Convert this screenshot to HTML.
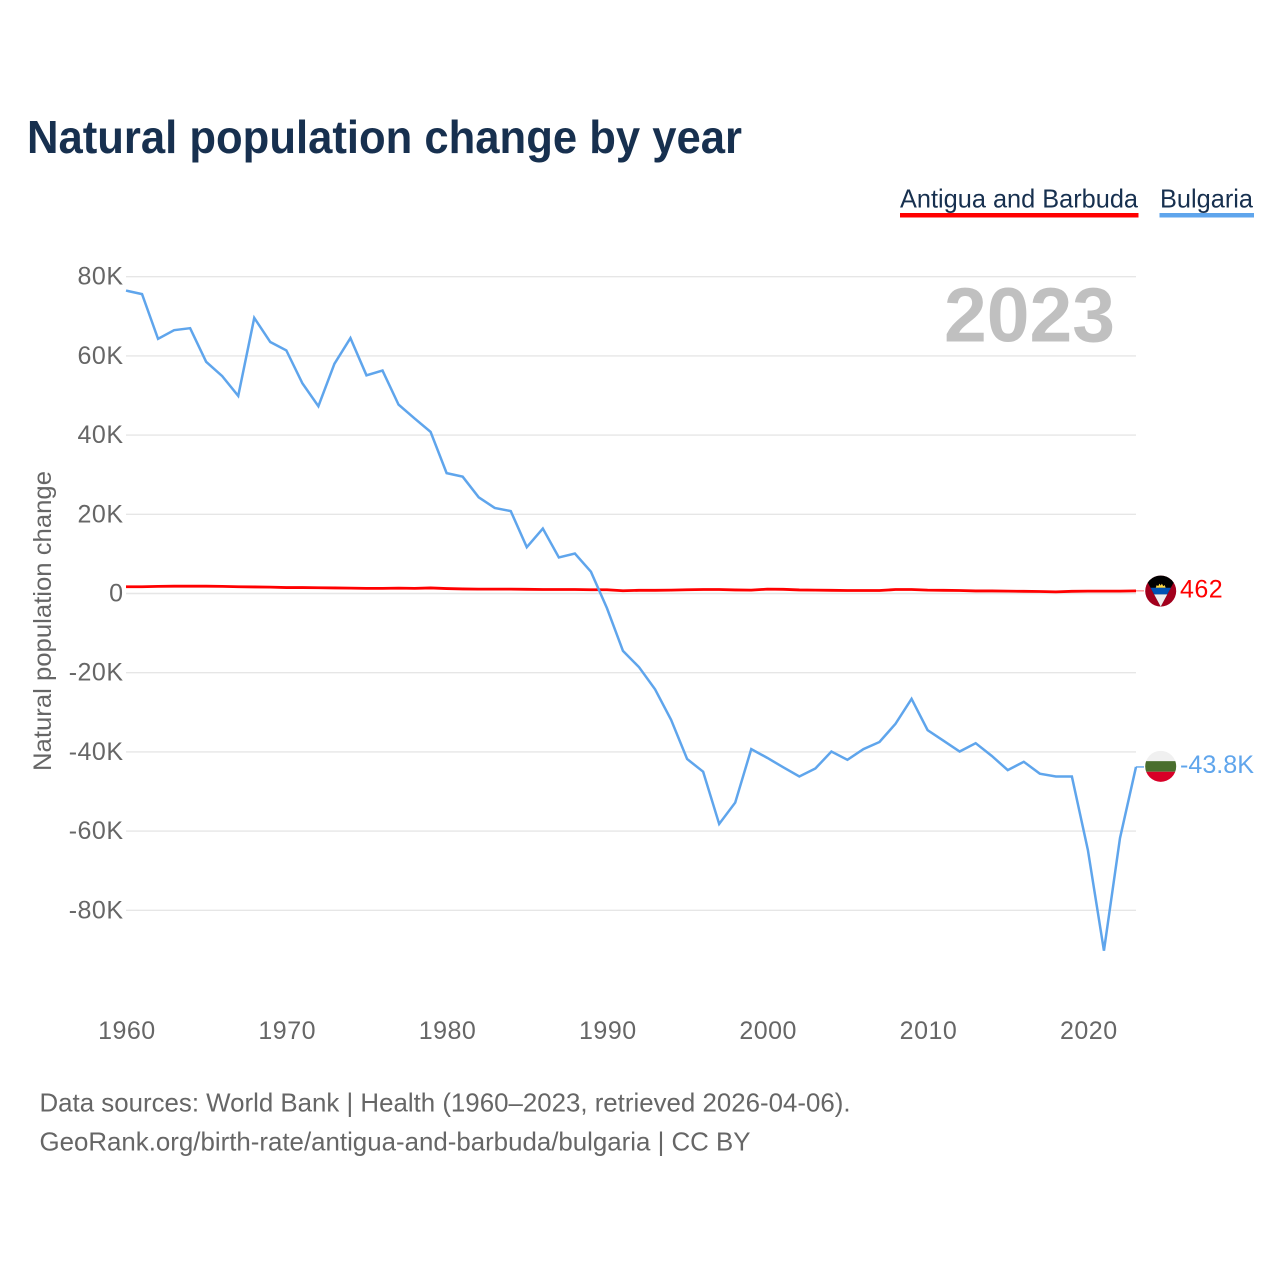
<!DOCTYPE html>
<html lang="en">
<head>
<meta charset="utf-8">
<title>Natural population change by year</title>
<style>
html,body{margin:0;padding:0;background:#fff;width:1280px;height:1280px;overflow:hidden}
svg{display:block}
text{font-family:"Liberation Sans",sans-serif}
.tick{font-size:25px;fill:#666;letter-spacing:.5px}
</style>
</head>
<body>
<svg xmlns="http://www.w3.org/2000/svg" width="1280" height="1280" viewBox="0 0 1280 1280">
  <rect x="0" y="0" width="1280" height="1280" fill="#fff"/>
  <text x="27" y="153" font-size="46" font-weight="700" fill="#17304f" textLength="715" lengthAdjust="spacingAndGlyphs">Natural population change by year</text>

  <g>
    <g>
      <text x="900" y="207.5" font-size="26" fill="#17304f" textLength="238" lengthAdjust="spacingAndGlyphs">Antigua and Barbuda</text>
      <rect x="900" y="213" width="238.5" height="4.5" fill="#ff0000"/>
    </g>
    <g>
      <text x="1160" y="207.5" font-size="26" fill="#17304f" textLength="93" lengthAdjust="spacingAndGlyphs">Bulgaria</text>
      <rect x="1159.5" y="213" width="94.5" height="4.5" fill="#5fa5ec"/>
    </g>
  </g>

  <g id="grid"></g>
  <text x="1115" y="341.5" text-anchor="end" font-size="77" font-weight="700" fill="#c0c0c0" textLength="171" lengthAdjust="spacingAndGlyphs">2023</text>
  <g id="yticks"></g>
  <g id="xticks"></g>
  <text transform="translate(51 771) rotate(-90)" x="0" y="0" font-size="25" fill="#666" textLength="300" lengthAdjust="spacingAndGlyphs">Natural population change</text>

  <g id="series"></g>

  <g id="flag-ag">
    <clipPath id="clip-ag"><circle cx="0" cy="0" r="15.5"/></clipPath>
    <g clip-path="url(#clip-ag)">
      <rect x="-16" y="-16" width="32" height="32" fill="#a2001d"/>
      <polygon points="-17,-16 17,-16 0,15.5" fill="#000"/>
      <polygon points="-5,-3.2 -4,-6 -2.5,-5 -1.2,-7.5 0,-5.5 1.2,-7.5 2.5,-5 4,-6 5,-3.2" fill="#ffda44"/>
      <polygon points="-10.2,-3.3 10.2,-3.3 6.6,3.3 -6.6,3.3" fill="#0052b4"/>
      <polygon points="-6.6,3.3 6.6,3.3 0,15.5" fill="#f0f0f0"/>
    </g>
  </g>
  <g id="flag-bg">
    <clipPath id="clip-bg"><circle cx="0" cy="0" r="15.5"/></clipPath>
    <g clip-path="url(#clip-bg)">
      <rect x="-16" y="-16" width="32" height="11" fill="#f0f0f0"/>
      <rect x="-16" y="-5.2" width="32" height="10.6" fill="#496e2d"/>
      <rect x="-16" y="5.4" width="32" height="11" fill="#d80027"/>
    </g>
  </g>
  <text id="label-ag" x="1180" font-size="25" fill="#ff0000" letter-spacing=".5"></text>
  <text id="label-bg" x="1180" font-size="25" fill="#5fa5ec" textLength="74" lengthAdjust="spacingAndGlyphs"></text>

  <g>
    <text x="39.5" y="1111.5" font-size="26" fill="#666" textLength="811" lengthAdjust="spacingAndGlyphs">Data sources: World Bank | Health (1960–2023, retrieved 2026-04-06).</text>
    <text x="39.5" y="1150.5" font-size="26" fill="#666" textLength="711" lengthAdjust="spacingAndGlyphs">GeoRank.org/birth-rate/antigua-and-barbuda/bulgaria | CC BY</text>
  </g>
</svg>
<script>
const years = [1960,1961,1962,1963,1964,1965,1966,1967,1968,1969,
  1970,1971,1972,1973,1974,1975,1976,1977,1978,1979,
  1980,1981,1982,1983,1984,1985,1986,1987,1988,1989,
  1990,1991,1992,1993,1994,1995,1996,1997,1998,1999,
  2000,2001,2002,2003,2004,2005,2006,2007,2008,2009,
  2010,2011,2012,2013,2014,2015,2016,2017,2018,2019,
  2020,2021,2022,2023];
const antiguaValues = [1.5,1.5,1.6,1.65,1.65,1.65,1.6,1.5,1.45,1.4,
  1.3,1.3,1.25,1.2,1.15,1.1,1.1,1.15,1.1,1.2,
  1.05,0.95,0.9,0.9,0.9,0.85,0.8,0.8,0.8,0.75,
  0.75,0.5,0.6,0.6,0.65,0.75,0.8,0.8,0.7,0.65,
  0.9,0.85,0.7,0.65,0.6,0.55,0.55,0.55,0.8,0.8,
  0.65,0.6,0.55,0.45,0.45,0.4,0.35,0.3,0.2,0.35,
  0.4,0.4,0.4,0.462];
const bulgariaValues = [76.5,75.6,64.3,66.5,67.0,58.5,54.9,49.9,69.6,63.5,
  61.4,53.1,47.3,58.0,64.5,55.1,56.3,47.7,44.2,40.8,
  30.4,29.5,24.3,21.6,20.8,11.7,16.4,9.1,10.1,5.5,
  -3.7,-14.5,-18.6,-24.2,-31.9,-41.8,-45.0,-58.2,-52.8,-39.3,
  -41.5,-43.9,-46.2,-44.2,-39.9,-42.0,-39.3,-37.5,-32.9,-26.6,
  -34.5,-37.2,-39.9,-37.8,-41.0,-44.6,-42.5,-45.5,-46.2,-46.2,
  -64.8,-90.2,-61.8,-43.8];
const yTickValues = [80,60,40,20,0,-20,-40,-60,-80];
const yTickLabels = ["80K","60K","40K","20K","0","-20K","-40K","-60K","-80K"];
const xTickValues = [1960,1970,1980,1990,2000,2010,2020];
const endLabels = ["462","-43.8K"];

const SVG_NS = "http://www.w3.org/2000/svg";
const plotLeft = 126, plotRight = 1136, zeroY = 593.5, pxPerK = 3.96;
function xScale(year){ return plotLeft + (year - 1960) * (plotRight - plotLeft) / (2023 - 1960); }
function yScale(k){ return zeroY - k * pxPerK; }

const gridG = document.getElementById("grid");
const yTicksG = document.getElementById("yticks");
const xTicksG = document.getElementById("xticks");
const seriesG = document.getElementById("series");

yTickValues.forEach(function(v, i){
  const line = document.createElementNS(SVG_NS, "line");
  line.setAttribute("x1", plotLeft);
  line.setAttribute("x2", plotRight);
  line.setAttribute("y1", yScale(v));
  line.setAttribute("y2", yScale(v));
  line.setAttribute("stroke", "#e6e6e6");
  line.setAttribute("stroke-width", "1.4");
  
  
  gridG.appendChild(line);

  const t = document.createElementNS(SVG_NS, "text");
  t.setAttribute("x", 123.5);
  t.setAttribute("y", yScale(v) + 8);
  t.setAttribute("text-anchor", "end");
  t.setAttribute("class", "tick");
  
  
  t.textContent = yTickLabels[i];
  yTicksG.appendChild(t);
});

xTickValues.forEach(function(y){
  const t = document.createElementNS(SVG_NS, "text");
  t.setAttribute("x", xScale(y) + 0.9);
  t.setAttribute("y", 1039);
  t.setAttribute("text-anchor", "middle");
  t.setAttribute("class", "tick");
  
  
  t.textContent = y;
  xTicksG.appendChild(t);
});

function pointsFor(values){
  return values.map(function(v, i){ return xScale(years[i]).toFixed(2) + "," + yScale(v).toFixed(2); }).join(" ");
}

const antiguaLine = document.createElementNS(SVG_NS, "polyline");
antiguaLine.setAttribute("points", pointsFor(antiguaValues));
antiguaLine.setAttribute("transform", "translate(0 -0.8)");
antiguaLine.setAttribute("fill", "none");
antiguaLine.setAttribute("stroke", "#ff0000");
antiguaLine.setAttribute("stroke-width", "2.8");
antiguaLine.setAttribute("stroke-linejoin", "round");


seriesG.appendChild(antiguaLine);

const bulgariaLine = document.createElementNS(SVG_NS, "polyline");
bulgariaLine.setAttribute("points", pointsFor(bulgariaValues));
bulgariaLine.setAttribute("fill", "none");
bulgariaLine.setAttribute("stroke", "#5fa5ec");
bulgariaLine.setAttribute("stroke-width", "2.5");
bulgariaLine.setAttribute("stroke-linejoin", "miter");


seriesG.appendChild(bulgariaLine);

const lastAg = yScale(antiguaValues[antiguaValues.length - 1]);
const lastBg = yScale(bulgariaValues[bulgariaValues.length - 1]);

const connAg = document.createElementNS(SVG_NS, "line");
connAg.setAttribute("x1", plotRight);
connAg.setAttribute("x2", 1144);
connAg.setAttribute("y1", lastAg - 0.8);
connAg.setAttribute("y2", lastAg - 0.8);
connAg.setAttribute("stroke", "#ff0000");
connAg.setAttribute("stroke-width", "1");
connAg.setAttribute("stroke-opacity", "0.6");


seriesG.appendChild(connAg);

const connBg = document.createElementNS(SVG_NS, "line");
connBg.setAttribute("x1", plotRight);
connBg.setAttribute("x2", 1144);
connBg.setAttribute("y1", lastBg);
connBg.setAttribute("y2", lastBg);
connBg.setAttribute("stroke", "#5fa5ec");
connBg.setAttribute("stroke-width", "1.4");


seriesG.appendChild(connBg);

document.getElementById("flag-ag").setAttribute("transform", "translate(1160.7 " + (lastAg - 0.6) + ")");
document.getElementById("flag-bg").setAttribute("transform", "translate(1160.7 " + (lastBg - 0.6) + ")");
const labelAg = document.getElementById("label-ag");
labelAg.setAttribute("y", lastAg + 6);
labelAg.textContent = endLabels[0];
const labelBg = document.getElementById("label-bg");
labelBg.setAttribute("y", lastBg + 6);
labelBg.textContent = endLabels[1];
</script>
</body>
</html>
